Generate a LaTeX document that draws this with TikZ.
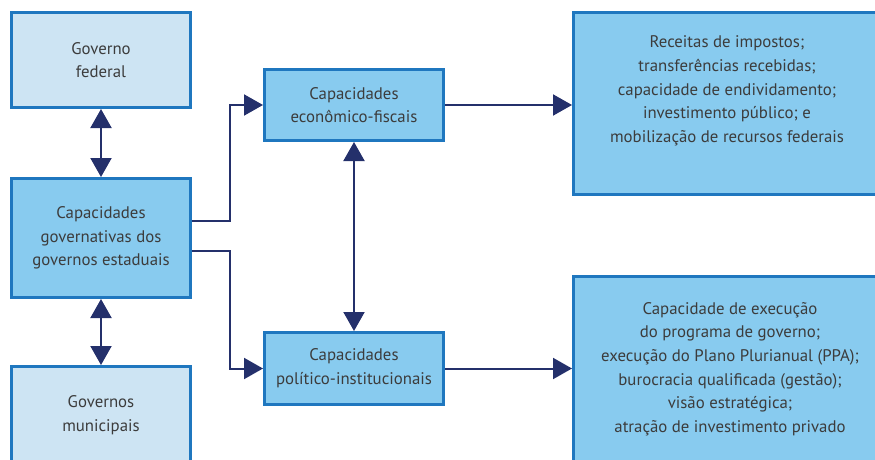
\documentclass[tikz,border=0pt]{standalone}
\usepackage{fontspec}
\setmainfont{PT Sans}
\usetikzlibrary{arrows.meta,calc}
\definecolor{lightfill}{HTML}{CDE4F3}
\definecolor{darkfill}{HTML}{88CBEF}
\definecolor{boxline}{HTML}{1F77BF}
\definecolor{arrowcol}{HTML}{24306B}
\definecolor{txt}{HTML}{3C3C3C}
\begin{document}
\begin{tikzpicture}[x=1pt,y=-1pt,
  box/.style={draw=boxline,line width=3pt,inner sep=0pt,align=center,
    text=txt,font=\fontsize{16.8}{23.7}\selectfont,minimum width=179pt},
  lightbox/.style={box,fill=lightfill},
  darkbox/.style={box,fill=darkfill},
  txtnode/.style={align=center,text=txt,font=\fontsize{16.8}{23.7}\selectfont,inner sep=0pt},
  arr/.style={draw=arrowcol,line width=2pt,-{Triangle[width=21pt,length=19pt]}},
  darr/.style={draw=arrowcol,line width=2pt,{Triangle[width=21pt,length=19pt]}-{Triangle[width=21pt,length=19pt]}}
]
\useasboundingbox (0,0) rectangle (875,460);
\begin{scope}
\clip (0,0) rectangle (875,460);
\node[lightbox,minimum height=95pt] (gov) at (101,60) {Governo\\federal};
\node[darkbox,minimum height=119pt] (cap) at (101,238) {Capacidades\\governativas dos\\governos estaduais};
\node[lightbox,minimum height=97pt] (mun) at (101,415) {Governos\\municipais};
\node[darkbox,minimum height=71pt] (econ) at (354,105) {Capacidades\\econômico-fiscais};
\node[darkbox,minimum height=72pt] (pol) at (354,368.5) {Capacidades\\político-institucionais};
\node[darkbox,minimum width=307pt,minimum height=182pt] (r1) at (727,103.5) {};
\node[txtnode] (r1t) at (727,91) {Receitas de impostos;\\transferências recebidas;\\capacidade de endividamento;\\investimento público; e\\mobilização de recursos federais};
\node[darkbox,minimum width=307pt,minimum height=192pt] (r2) at (727,372) {};
\node[txtnode] (r2t) at (730,369) {Capacidade de execução\\do programa de governo;\\execução do Plano Plurianual (PPA);\\burocracia qualificada (gestão);\\visão estratégica;\\atração de investimento privado};
\end{scope}
\draw[darr] (gov.south) -- (cap.north);
\draw[darr] (cap.south) -- (mun.north);
\draw[darr] (econ.south) -- (pol.north);
\draw[arr] ([yshift=17pt]cap.east) -- ++(38,0) |- (econ.west);
\draw[arr] ([yshift=-13pt]cap.east) -- ++(38,0) |- (pol.west);
\draw[arr] (econ.east) -- (econ.east -| r1.west);
\draw[arr] (pol.east) -- (pol.east -| r2.west);
\end{tikzpicture}
\end{document}
